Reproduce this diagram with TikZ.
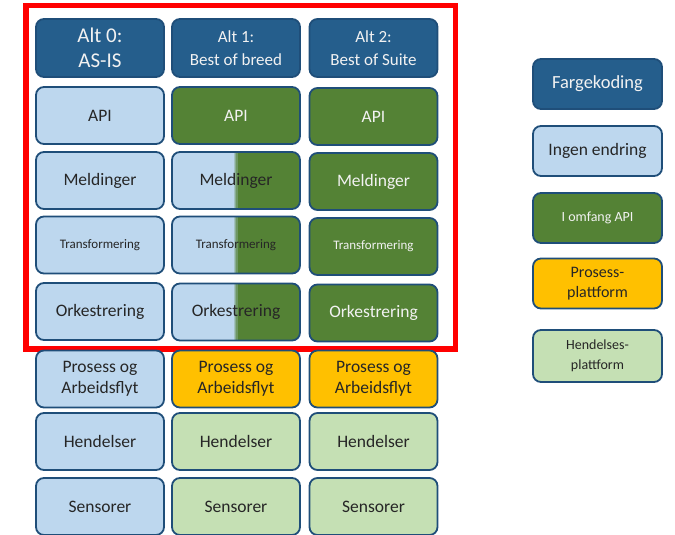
\documentclass[tikz,border=0pt]{standalone}
\usepackage{fontspec}
\setmainfont{Carlito}
\definecolor{edge}{HTML}{1F4E79}
\definecolor{head}{HTML}{255E8C}
\definecolor{lblue}{HTML}{BDD7EE}
\definecolor{grn}{HTML}{548235}
\definecolor{ylw}{HTML}{FFC000}
\definecolor{lgrn}{HTML}{C5E0B4}
\definecolor{txt}{HTML}{262626}
\definecolor{ltxt}{HTML}{F2F2F2}
\newcommand{\blendstrip}[3]{%
  \fill[#3, sharp corners] ([xshift=#1pt]path picture bounding box.south) rectangle ([xshift=#2pt]path picture bounding box.north);}
\begin{document}
\begin{tikzpicture}[x=1pt,y=-1pt,
  box/.style={draw=edge, line width=1.8pt, rounded corners=8pt,
    minimum width=128pt, minimum height=57pt, inner sep=2pt, align=center,
    font=\fontsize{17.5}{21}\selectfont, text=txt},
  small/.style={font=\fontsize{13}{16}\selectfont},
  headbox/.style={box, fill=head, text=ltxt, minimum height=58pt},
  keep/.style={box, fill=lblue},
  api/.style={box, fill=grn, text=ltxt},
  proc/.style={box, fill=ylw},
  evt/.style={box, fill=lgrn},
  split/.style={box, fill=grn, path picture={
    \fill[lblue, sharp corners] (path picture bounding box.south west) rectangle ([xshift=-1.5pt]path picture bounding box.north);
    \blendstrip{-1.6}{-0.5}{lblue!75!grn}
    \blendstrip{-0.6}{0.5}{lblue!50!grn}
    \blendstrip{0.4}{1.5}{lblue!25!grn}}},
  legend/.style={box, minimum width=129pt, minimum height=50pt},
  frame/.style={draw=red, line width=5.5pt}
]
\useasboundingbox (0,0) rectangle (675,535);

% scope frame around the integration layers
\draw[frame] (26,5.5) rectangle (455.5,349);

% column headers
\node[headbox, font=\fontsize{21}{25}\selectfont] (h0) at (100,48) {Alt 0:\\AS-IS};
\node[headbox, font=\fontsize{17}{22.5}\selectfont] (h1) at (236,48) {Alt 1:\\Best of breed};
\node[headbox, font=\fontsize{17}{22.5}\selectfont] (h2) at (373.5,48) {Alt 2:\\Best of Suite};

% API
\node[keep] (a0) at (100,115.5) {API};
\node[api]  (a1) at (236,115.5) {API};
\node[api]  (a2) at (373.5,116.5) {API};

% Meldinger
\node[keep]  (m0) at (100,180.5) {Meldinger};
\node[split] (m1) at (236,180.5) {Meldinger};
\node[api]   (m2) at (373.5,181.5) {Meldinger};

% Transformering
\node[keep, small]  (t0) at (100,245) {Transformering};
\node[split, small] (t1) at (236,245) {Transformering};
\node[api, small]   (t2) at (373.5,246.5) {Transformering};

% Orkestrering
\node[keep]  (o0) at (100,311.5) {Orkestrering};
\node[split] (o1) at (236,312) {Orkestrering};
\node[api]   (o2) at (373.5,313) {Orkestrering};

% Prosess og arbeidsflyt
\node[keep] (p0) at (100,379) {Prosess og\\Arbeidsflyt};
\node[proc] (p1) at (236,379) {Prosess og\\Arbeidsflyt};
\node[proc] (p2) at (373.5,379) {Prosess og\\Arbeidsflyt};

% Hendelser
\node[keep] (e0) at (100,441.5) {Hendelser};
\node[evt]  (e1) at (236,441.5) {Hendelser};
\node[evt]  (e2) at (373.5,441.5) {Hendelser};

% Sensorer
\node[keep] (s0) at (100,506.5) {Sensorer};
\node[evt]  (s1) at (236,506.5) {Sensorer};
\node[evt]  (s2) at (373.5,506.5) {Sensorer};

% colour key
\node[legend, fill=head, text=ltxt, font=\fontsize{18.5}{22}\selectfont] (k0) at (597.5,84) {Fargekoding};
\node[legend, fill=lblue] (k1) at (597.5,151) {Ingen endring};
\node[legend, fill=grn, text=ltxt, font=\fontsize{14}{17}\selectfont] (k2) at (597.5,218) {I omfang API};
\node[legend, fill=ylw, font=\fontsize{16}{20.5}\selectfont] (k3) at (597.5,283.5) {Prosess-\\plattform};
\node[legend, fill=lgrn, minimum height=52pt, font=\fontsize{14}{20}\selectfont] (k4) at (597.5,356) {Hendelses-\\plattform};
\end{tikzpicture}
\end{document}
